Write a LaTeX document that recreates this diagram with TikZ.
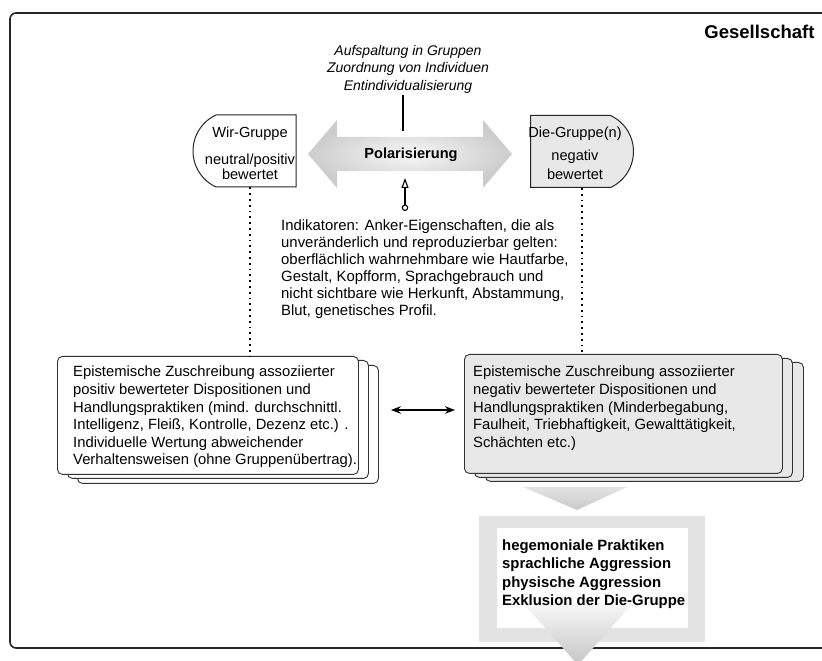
\documentclass[tikz,border=0pt]{standalone}
\usepackage{fontspec}
\setmainfont{Liberation Sans}
\usetikzlibrary{calc,shapes.misc,arrows.meta}

\begin{document}
\begin{tikzpicture}[x=1pt,y=1pt,
		rahmen/.style={line width=1.6pt,draw=black!85,rounded corners=6pt},
		txt/.style={inner sep=0pt,font=\fontsize{14.8}{17.6}\selectfont},
		grp/.style={rounded rectangle,rounded rectangle arc length=130,draw=black!85,line width=1pt,minimum width=103pt,minimum height=72pt,inner sep=0pt},
		stapel/.style={draw=black!80,line width=0.9pt,rounded corners=5pt,anchor=north west,inner sep=0pt},
		punkte/.style={line width=1.4pt,dash pattern=on 1.8pt off 4pt},
		keil/.style={top color=gray!22,bottom color=gray!42,draw=none}]
		\useasboundingbox (0,0) rectangle (822,661);
		\clip (0,0) rectangle (822,661);
		\draw[rahmen] (830,648) -- (10,648) -- (10,13) -- (830,13); %Rahmen
		\node[anchor=base east,font=\bfseries\fontsize{18.5}{20}\selectfont] (ges) at (818,622) {Gesellschaft};
		\node[txt,anchor=north,align=center,font=\itshape\fontsize{14}{17.5}\selectfont] (split) at (408,616) {Aufspaltung in Gruppen\\Zuordnung von Individuen\\Entindividualisierung};
		\coordinate (splitend) at (403,530);
		\draw[line width=1.2pt,shorten <=2pt] (splitend |- split.south) -- (splitend);
		\path[shading=radial,inner color=gray!6,outer color=gray!40] (308,507) -- (337,541) -- (337,524) -- (483,524) -- (483,541) -- (512,507)
			-- (483,473) -- (483,490) -- (337,490) -- (337,473) -- cycle; %Doppelpfeil
		\node[font=\bfseries\fontsize{14.6}{17}\selectfont] (pol) at (411,506) {Polarisierung};
		\node[grp,rounded rectangle right arc=none,fill=white] (wir) at (244.5,510) {}; %Wir
		\node[txt,align=center,font=\fontsize{14.6}{15}\selectfont] (wirtext) at (250,507.3) {Wir-Gruppe\\[12pt]neutral/positiv\\bewertet};
		\node[grp,rounded rectangle left arc=none,fill=gray!18] (die) at (582,509.5) {}; %Die
		\node[txt,align=center,font=\fontsize{14.6}{15}\selectfont] (dietext) at (575,507.3) {Die-Gruppe(n)\\[8pt]negativ\\[4pt]bewertet};
		\coordinate (indfuss) at (405,450);
		\coordinate (indspitze) at (405,483);
		\draw[line width=1.1pt,{Circle[open,length=6.5pt]}-{Triangle[open,length=10pt,width=7pt]}] (indfuss) -- (indspitze);
		\node[txt,anchor=north west,align=left,font=\fontsize{14.9}{17}\selectfont] (ind) at (281,441) {Indikatoren: Anker-Eigenschaften, die als\\unveränderlich und reproduzierbar gelten:\\oberflächlich wahrnehmbare wie Hautfarbe,\\Gestalt, Kopfform, Sprachgebrauch und\\nicht sichtbare wie Herkunft, Abstammung,\\Blut, genetisches Profil.};
		\node[stapel,fill=white,minimum width=301pt,minimum height=118pt] (pos3) at (77,296) {};
		\node[stapel,fill=white,minimum width=301pt,minimum height=118pt] (pos2) at (67,301) {};
		\node[stapel,fill=white,minimum width=301pt,minimum height=118pt] (posfront) at (57,305) {};
		\node[txt,anchor=north west,align=left] (postext) at (73,295) {Epistemische Zuschreibung assoziierter\\positiv bewerteter Dispositionen und\\Handlungspraktiken (mind. durchschnittl.\\Intelligenz, Fleiß, Kontrolle, Dezenz etc.) .\\Individuelle Wertung abweichender\\Verhaltensweisen (ohne Gruppenübertrag).};
		\node[stapel,fill=gray!18,minimum width=318pt,minimum height=119pt] (neg3) at (485,299) {};
		\node[stapel,fill=gray!18,minimum width=318pt,minimum height=119pt] (neg2) at (474,303) {};
		\node[stapel,fill=gray!18,minimum width=318pt,minimum height=119pt] (negfront) at (464,307) {};
		\node[txt,anchor=north west,align=left] (negtext) at (473,295) {Epistemische Zuschreibung assoziierter\\negativ bewerteter Dispositionen und\\Handlungspraktiken (Minderbegabung,\\Faulheit, Triebhaftigkeit, Gewalttätigkeit,\\Schächten etc.)};
		\draw[punkte] (wirtext.south |- wir.south) -- (wirtext.south |- posfront.north);
		\draw[punkte] (die.south) -- (die.south |- negfront.north);
		\coordinate (biy) at (0,251);
		\draw[line width=1.5pt,{Stealth[length=10pt,width=7.5pt]}-{Stealth[length=10pt,width=7.5pt]},shorten <=12pt,shorten >=9pt] (pos3.east |- biy) -- (negfront.west |- biy);
		\path[keil] (523,174) -- (627,174) -- (577,151) -- cycle; %Keil oben
		\fill[gray!22] (479,19) rectangle (705,145);
		\fill[white] (497,33) rectangle (688,133);
		\path[top color=gray!6,bottom color=gray!45] (523,58) -- (633,58) -- (578,-4) -- cycle; %Keil unten
		\node[txt,anchor=north west,align=left,font=\bfseries\fontsize{14.9}{18.3}\selectfont] (praxis) at (502,121.5) {hegemoniale Praktiken\\sprachliche Aggression\\physische Aggression\\Exklusion der Die-Gruppe};
\end{tikzpicture}
\end{document}
